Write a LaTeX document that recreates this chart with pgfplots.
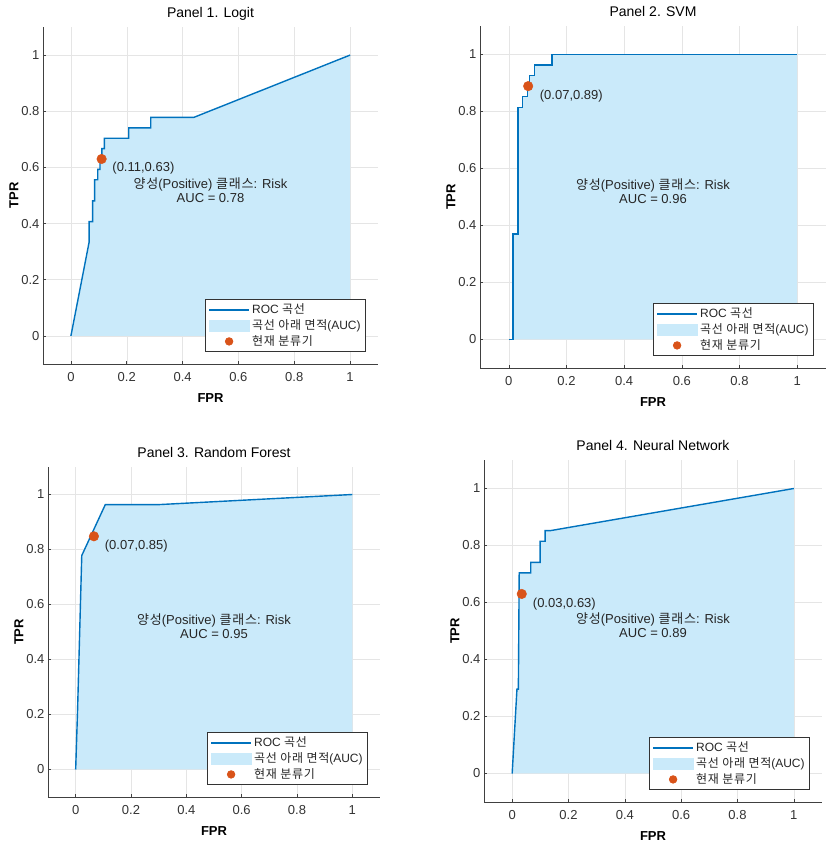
\documentclass[border=0pt]{standalone}
\usepackage{pgfplots}
\pgfplotsset{compat=1.18}
\usepackage{pgfplotstable}
\usepackage{fontspec}
\setmainfont{Liberation Sans}
\newfontfamily\krw[LetterSpace=6]{Noto Sans CJK KR}

\definecolor{rocblue}{RGB}{0,114,189}
\definecolor{aucfill}{RGB}{202,234,250}
\definecolor{curorange}{RGB}{217,83,25}

% ROC curves (TPR steps of 1/27)
\pgfplotstableread{
x y
0 0
0.065 0.333
0.065 0.407
0.078 0.407
0.078 0.481
0.085 0.481
0.085 0.556
0.096 0.556
0.096 0.593
0.104 0.593
0.104 0.630
0.111 0.630
0.111 0.667
0.120 0.667
0.120 0.704
0.207 0.704
0.207 0.741
0.286 0.741
0.286 0.778
0.440 0.778
1 1
}\logit

\pgfplotstableread{
x y
0 0
0.015 0
0.015 0.370
0.032 0.370
0.032 0.815
0.047 0.815
0.047 0.852
0.064 0.852
0.064 0.889
0.072 0.889
0.072 0.926
0.090 0.926
0.090 0.963
0.150 0.963
0.150 1
1 1
}\svm

\pgfplotstableread{
x y
0 0
0.007 0.22
0.022 0.778
0.107 0.963
0.296 0.963
1 1
}\rf

\pgfplotstableread{
x y
0 0
0.017 0.296
0.022 0.296
0.025 0.704
0.066 0.704
0.066 0.741
0.099 0.741
0.099 0.815
0.117 0.815
0.117 0.852
0.135 0.852
1 1
}\nn

\pgfplotsset{
  rocaxis/.style={
    scale only axis, anchor=south west,
    xmin=-0.1, xmax=1.1, ymin=-0.1, ymax=1.1,
    xtick={0,0.2,0.4,0.6,0.8,1}, ytick={0,0.2,0.4,0.6,0.8,1},
    axis x line*=bottom, axis y line*=left,
    axis line style={-, black!75, line width=0.9pt},
    grid=major, major grid style={black!10, line width=0.5pt},
    tick align=inside, major tick length=3pt,
    tick style={black!75, line width=0.6pt},
    /pgf/number format/assume math mode=true,
    tick label style={font=\fontsize{13}{15}\selectfont, text=black!80},
    xticklabel style={yshift=-5pt},
    xlabel={FPR}, ylabel={TPR},
    label style={font=\fontsize{13}{15}\selectfont\bfseries},
    xlabel style={at={([yshift=-34pt]axis description cs:0.5,0)}, anchor=center},
    ylabel style={at={([xshift=-29pt]axis description cs:0,0.5)}, anchor=center},
    title style={font=\fontsize{14}{16}\selectfont, at={(axis description cs:0.5,1)}, anchor=base, yshift=3.5pt},
    legend style={at={(axis description cs:1,0)}, anchor=south east,
      xshift=-12pt, yshift=12pt, draw=black!80, line width=0.7pt, fill=white,
      font=\fontsize{12}{14}\selectfont, text=black!85,
      inner xsep=3pt, inner ysep=2.5pt, row sep=0.5pt},
    legend cell align=left,
  },
}

% #1 table, #2 #3 current classifier, #4 #5 label position, #6 label, #7 AUC
\newcommand{\rocbody}[7]{%
  \addplot[fill=aucfill, draw=none, forget plot] table {#1} \closedcycle;
  \addplot[rocblue, line width=1.4pt, forget plot] table {#1};
  \addplot[only marks, mark=*, mark size=4.8pt, curorange, forget plot] coordinates {(#2,#3)};
  \node[anchor=west, inner sep=0pt, font=\fontsize{13}{15}\selectfont, text=black!85] at (axis cs:#4,#5) {#6};
  \node[align=center, inner sep=0pt, font=\fontsize{13}{14}\selectfont, text=black!85] at (axis cs:0.5,0.52)
    {{\krw 양성}(Positive) {\krw 클래스}: Risk\\AUC = #7};
  \addlegendimage{legend image code/.code={\draw[rocblue, line width=2pt] (0pt,0pt) -- (40pt,0pt);}}
  \addlegendimage{legend image code/.code={\fill[aucfill] (0pt,-5.5pt) rectangle (40pt,5.5pt);}}
  \addlegendimage{legend image code/.code={\fill[curorange] (20pt,0pt) circle (3.8pt);}}
  \legend{ROC {\krw 곡선}, {\krw 곡선 아래 면적}(AUC), {\krw 현재 분류기}}
}

\begin{document}
\begin{tikzpicture}[x=1pt, y=1pt]
\path[use as bounding box] (0,0) rectangle (827,843);

\begin{axis}[rocaxis, at={(43pt,479pt)}, width=335pt, height=337pt, title={Panel 1. Logit}]
  \rocbody{\logit}{0.11}{0.63}{0.148}{0.598}{(0.11,0.63)}{0.78}
\end{axis}

\begin{axis}[rocaxis, at={(480pt,475pt)}, width=346pt, height=342pt, title={Panel 2. SVM}]
  \rocbody{\svm}{0.067}{0.889}{0.107}{0.853}{(0.07,0.89)}{0.96}
\end{axis}

\begin{axis}[rocaxis, at={(48pt,46pt)}, width=332pt, height=330pt, title={Panel 3. Random Forest}]
  \rocbody{\rf}{0.066}{0.848}{0.105}{0.813}{(0.07,0.85)}{0.95}
\end{axis}

\begin{axis}[rocaxis, at={(484pt,41pt)}, width=338pt, height=342pt, title={Panel 4. Neural Network}]
  \rocbody{\nn}{0.034}{0.63}{0.073}{0.595}{(0.03,0.63)}{0.89}
\end{axis}

\end{tikzpicture}
\end{document}
